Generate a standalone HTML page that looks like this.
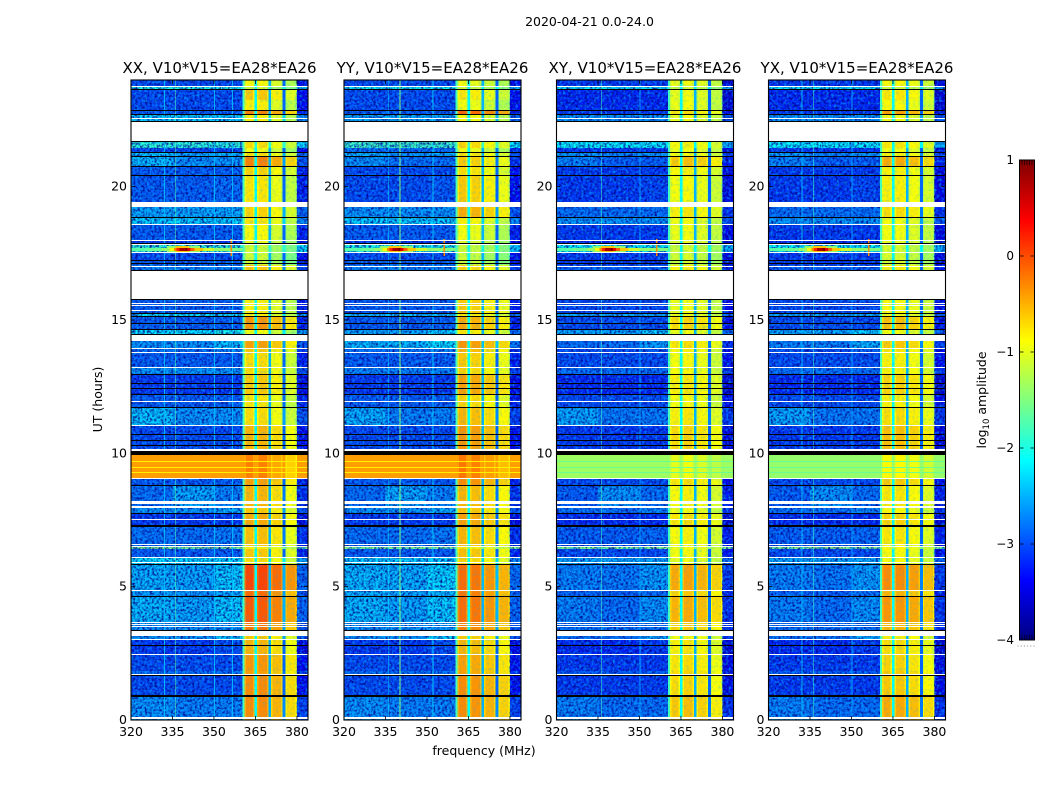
<!DOCTYPE html>
<html lang="en">
<head>
<meta charset="utf-8">
<title>2020-04-21 waterfall</title>
<style>
html,body{margin:0;padding:0;background:#fff;}
svg{display:block;}
text{font-family:"DejaVu Sans","Liberation Sans",sans-serif;fill:#000;}
</style>
</head>
<body>
<svg id="fig" xmlns="http://www.w3.org/2000/svg" width="1050" height="800" viewBox="0 0 1050 800">
  <defs>
    <filter id="speckle-dark" x="0" y="0" width="100%" height="100%" color-interpolation-filters="sRGB">
      <feTurbulence type="fractalNoise" baseFrequency="0.42" numOctaves="2" seed="4"/>
      <feColorMatrix type="matrix" values="0 0 0 0 0  0 0 0 0 0.02  0 0 0 0 0.55  2.8 0 0 0 -1.1"/>
    </filter>
    <filter id="speckle-light" x="0" y="0" width="100%" height="100%" color-interpolation-filters="sRGB">
      <feTurbulence type="fractalNoise" baseFrequency="0.38" numOctaves="2" seed="11"/>
      <feColorMatrix type="matrix" values="0 0 0 0 0  0 0 0 0 0.65  0 0 0 0 1  0 2.8 0 0 -1.3"/>
    </filter>
  </defs>
  <text x="589.5" y="26" font-size="12.5" text-anchor="middle">2020-04-21 0.0-24.0</text>
  <text x="484" y="755" font-size="12.5" text-anchor="middle">frequency (MHz)</text>
  <text transform="translate(102,399.5) rotate(-90)" font-size="12.5" text-anchor="middle">UT (hours)</text>
  <text transform="translate(986,400) rotate(-90)" font-size="12.5" text-anchor="middle">log<tspan font-size="8.5" dy="3">10</tspan><tspan dy="-3"> amplitude</tspan></text>
  <g id="panels"></g>
  <g id="colorbar"></g>
</svg>
<script>
// ---- chart values ----
const panelNames = ['xx', 'yy', 'xy', 'yx'];
const panelTitles = ['XX, V10*V15=EA28*EA26', 'YY, V10*V15=EA28*EA26', 'XY, V10*V15=EA28*EA26', 'YX, V10*V15=EA28*EA26'];
const freqTicks = [320, 335, 350, 365, 380];
const hourTicks = [0, 5, 10, 15, 20];
const colorTicks = [1, 0, -1, -2, -3, -4];

// Time bins counted down from 24 h; one bin is 0.0375 h.
const rowStartBin = [0,7,10,20,30,34,
  61,68,72,76,86,95,127,137,144,161,164,172,180,185,
  220,233,237,249,261,268,273,287,295,315,328,346,
  375,399,406,428,433,447,465,467,469,477,484,510,517,542,556,560,574,591,596,616,637];

// log10 amplitude, low band (320-360 MHz), per time row
const xxLow = [-3.0,-2.0,-3.0,-3.0,-2.9,-2.3,
  -1.9,-3.0,-2.5,-2.6,-2.9,-2.9,-2.5,-2.3,-2.9,-3.1,-1.9,-3.0,-2.9,-2.7,
  -2.9,-2.2,-2.9,-2.2,-2.6,-2.8,-2.9,-2.6,-3.1,-2.9,-2.6,-3.0,
  -0.4,-2.9,-2.8,-2.6,-3.1,-2.8,-2.9,-1.5,-2.9,-2.2,-2.5,-2.6,-2.5,-2.6,-2.6,-3.1,-3.0,-2.8,-3.0,-2.7,-2.6];
const yyLow = [-3.0,-2.1,-3.0,-3.0,-2.9,-2.5,
  -1.8,-2.8,-2.6,-2.8,-3.0,-3.0,-2.6,-2.3,-2.9,-3.1,-2.0,-3.0,-2.9,-2.7,
  -2.9,-2.4,-2.9,-2.5,-2.4,-2.8,-2.9,-2.7,-3.1,-2.9,-2.7,-3.0,
  -0.4,-2.9,-2.8,-2.6,-3.1,-2.8,-2.9,-1.5,-2.9,-2.3,-2.45,-2.5,-2.5,-2.6,-2.6,-3.1,-3.0,-2.8,-3.0,-2.7,-2.6];
const xyLow = [-3.1,-2.2,-3.2,-3.2,-3.1,-2.6,
  -2.1,-3.1,-2.7,-2.9,-3.1,-3.1,-2.8,-2.6,-3.1,-3.2,-2.1,-3.1,-3.1,-2.9,
  -3.0,-2.5,-3.0,-2.5,-2.8,-3.0,-3.0,-2.8,-3.2,-3.0,-2.75,-3.1,
  -1.35,-3.0,-2.9,-2.8,-3.2,-2.9,-3.0,-1.5,-3.0,-2.5,-2.75,-2.9,-2.8,-2.8,-2.8,-3.2,-3.1,-2.9,-3.1,-2.8,-2.7];
const yxLow = [-3.1,-2.2,-3.2,-3.2,-3.1,-2.6,
  -2.1,-3.1,-2.7,-2.9,-3.1,-3.1,-2.8,-2.6,-3.1,-3.2,-2.1,-3.1,-3.1,-2.9,
  -3.0,-2.5,-3.0,-2.5,-2.7,-3.0,-3.0,-2.8,-3.2,-3.0,-2.75,-3.1,
  -1.4,-3.0,-2.9,-2.8,-3.2,-2.9,-3.0,-1.5,-3.0,-2.5,-2.75,-2.9,-2.8,-2.8,-2.8,-3.2,-3.1,-2.9,-3.1,-2.8,-2.7];

// log10 amplitude, high band (360-380 MHz), per time row
const xxHigh = [-0.95,-1.2,-0.7,-0.9,-0.35,-0.9,
  -0.8,-1.0,-0.8,-0.35,-0.75,-0.85,-0.75,-0.85,-0.95,-1.05,-1.2,-1.2,-1.2,-0.7,
  -0.9,-0.9,-0.45,-1.0,-0.5,-0.7,-0.8,-0.8,-0.7,-0.85,-0.8,-0.6,
  -0.35,-0.5,-0.6,-0.7,-0.55,-0.65,-0.7,-0.9,-0.7,-0.8,-0.05,-0.25,-0.15,-0.3,-0.7,-0.6,-0.45,-0.5,-0.4,-0.4,-0.5];
const yyHigh = [-1.0,-1.2,-0.85,-1.0,-0.2,-0.95,
  -0.75,-1.0,-0.8,-0.7,-0.8,-0.7,-0.55,-0.9,-1.0,-1.1,-1.2,-1.2,-1.2,-0.75,
  -0.7,-0.85,-0.55,-0.85,-0.45,-0.6,-0.7,-0.75,-0.5,-0.75,-0.6,-0.45,
  -0.3,-0.4,-0.6,-0.65,-0.5,-0.6,-0.65,-0.85,-0.65,-0.75,-0.25,-0.3,-0.25,-0.35,-0.7,-0.6,-0.5,-0.5,-0.4,-0.4,-0.45];
const xyHigh = [-1.05,-1.25,-1.05,-1.05,-0.85,-1.05,
  -0.95,-1.05,-1.0,-0.7,-0.95,-1.0,-0.9,-1.05,-1.05,-1.1,-1.2,-1.2,-1.2,-0.95,
  -1.05,-1.05,-0.8,-1.05,-0.85,-0.95,-1.0,-1.0,-0.9,-1.0,-0.9,-0.8,
  -1.1,-0.85,-0.95,-1.05,-0.85,-0.95,-1.0,-1.05,-1.0,-1.05,-0.55,-0.75,-0.6,-0.75,-1.0,-0.9,-0.85,-0.8,-0.8,-0.7,-0.65];
const yxHigh = [-1.0,-1.25,-0.9,-1.0,-0.55,-1.05,
  -0.9,-1.05,-0.95,-0.6,-0.95,-0.95,-0.85,-1.05,-1.05,-1.1,-1.2,-1.2,-1.2,-0.95,
  -1.0,-1.05,-0.7,-1.05,-0.75,-0.9,-0.95,-0.95,-0.8,-0.95,-0.85,-0.7,
  -1.0,-0.75,-0.9,-1.0,-0.8,-0.9,-1.0,-1.0,-1.0,-1.0,-0.45,-0.65,-0.5,-0.65,-0.95,-0.85,-0.8,-0.75,-0.75,-0.6,-0.55];

// Per-row brightening of the low band, by frequency zone
const lowZoneEdges = [320, 335, 350, 360.3];
const leftBoost = [0,0,0,0,0,0,
  0,0,0.15,0.2,0,0,0,0,0,0,0,0,0,0,
  0,0,0,0,0,0,0,0,0,0,0.25,0,
  0,0,0,0,0,0,0,0,0,0,0.05,0.05,0.1,0,0,0,0,0,0,0.1,0.2];
const midBoost = [0,0,0,0,0,0,
  0,0,0,0,0,0,0,0,0,0,0,0,0,0,
  0,0,0,0,0,0,0,0,0,0,0,0,
  0,0,0.3,0,0,0,0,0,0,0,0,0,0,0,0,0,0,0,0,0,0];
const rightBoost = [0,0,0,0,0,0,
  0,0,0.1,0,0,0.05,0,0,0,0,0,0,0,0,
  0,0,0,0.2,0.25,0.1,0,0,0,0,0,0,
  0,0,0.1,0.1,0,0.05,0,0,0,0,0.2,0.1,0.2,0,0.3,0.1,0,0,0,0,0];

// High-band sub-bands, the notches between them, and the top edge of the passband
const subBandEdges = [361, 364.6, 365.6, 369.7, 370.7, 374.8, 375.8, 380];
const xxSubBand = [0.1, 0.1, -0.1, -0.3];
const yySubBand = [0.1, 0.05, -0.1, -0.25];
const xySubBand = [0.1, 0.15, 0.05, -0.1];
const yxSubBand = [0.15, 0.15, 0.05, -0.1];
const subBandRimWidth = 0.5;
const subBandRimDrop = -0.18;
const notchLevels = [-2.1, -2.5, -2.9];
const passbandEdgeLevel = -1.8;
const passbandTopLevelOffset = -0.35;

// Narrow interference channels (MHz) and their levels in each panel
const xxLines = [332, 336, 350, 356.5];
const xxLineLevels = [-2.5, -1.7, -2.5, -2.5];
const yyLines = [336, 340, 352];
const yyLineLevels = [-2.3, -1.5, -2.4];
const xyLines = [336, 350];
const xyLineLevels = [-1.8, -2.6];
const yxLines = [332, 336, 350];
const yxLineLevels = [-2.5, -1.8, -2.6];

// Strong interferer near 17.7 h
const rfiStartBin = 168;
const rfiBins = 3;
const rfiFreqs = [320, 326, 331, 334, 335.5, 336.5, 337.5, 339.5, 340.5, 341.5, 343, 346, 350, 356, 360.3];
const rfiLevels = [-1.7, -1.6, -1.4, -0.9, -0.3, 0.2, 0.8, 1.0, 0.5, -0.1, -0.6, -1.1, -1.4, -1.5, -1.6];
const rfiHaloFreqs = [333, 336, 341, 345];
const rfiHaloLevels = [-1.4, -0.6, -1.4];
const streakFreq = 356;
const streakStartBin = 159;
const streakBins = 17;
const streakLevel = -0.3;

// Thin stripes inside the broad band near 9 h
const stripeBins = [381, 387, 392];
const stripeLevels = [-0.8, -0.8, -1.6, -1.6];

// Flagged time ranges: white = no data, black = zero amplitude
const blankStart = [6,38,41,122,144,160,164,172,186,190,223,225,230,255,268,272,287,321,345,369,398,421,426,439,464,466,477,482,510,542,544,546,550,559,574,594,637];
const blankBins = [1,1,20,5,1,1,1,1,1,30,1,1,1,6,1,1,1,1,1,2,1,3,2,1,1,1,1,1,1,1,1,1,6,1,1,1,2];
const flagStart = [9,30,34,41,61,72,76,86,95,137,163,180,183,190,219,233,236,243,249,254,294,303,308,314,327,354,360,365,371,405,433,445,484,516,550,565,595,615];
const flagBins = [1,1,1,1,1,1,1,1,1,1,1,1,1,1,1,1,1,1,1,1,1,1,1,1,1,1,1,1,4,1,1,2,1,1,1,1,1,2];

const colorMin = -4;
const colorMax = 1;
const colorSteps = 160;

// ---- layout and axis functions ----
const NS = 'http://www.w3.org/2000/svg';
const panelLeft = [131, 344, 556.5, 768.5];
const panelWidth = 177;
const plotTop = 80;
const plotBottom = 720;
const HOURS_PER_BIN = 0.0375;
const FREQ_MIN = 320;
const FREQ_MAX = 384;
const xOf = (p, f) => panelLeft[p] + (f - FREQ_MIN) / (FREQ_MAX - FREQ_MIN) * panelWidth;
const yOf = h => plotBottom - h / 24 * (plotBottom - plotTop);
const hourOfBin = b => 24 - b * HOURS_PER_BIN;
const clip01 = v => Math.max(0, Math.min(1, v));
function jet(v) {
  const x = clip01((v - colorMin) / (colorMax - colorMin));
  const r = clip01(Math.min(4 * x - 1.5, -4 * x + 4.5));
  const g = clip01(Math.min(4 * x - 0.5, -4 * x + 3.5));
  const b = clip01(Math.min(4 * x + 0.5, -4 * x + 2.5));
  return 'rgb(' + Math.round(r * 255) + ',' + Math.round(g * 255) + ',' + Math.round(b * 255) + ')';
}
function shape(parent, tag, attrs) {
  const el = document.createElementNS(NS, tag);
  for (const k in attrs) el.setAttribute(k, attrs[k]);
  parent.appendChild(el);
  return el;
}
function cell(parent, p, f0, f1, b0, b1, level) {
  const x0 = xOf(p, f0), x1 = xOf(p, f1), y0 = yOf(hourOfBin(b0)), y1 = yOf(hourOfBin(b1));
  const el = shape(parent, 'rect', {x: x0, y: y0, width: x1 - x0, height: y1 - y0, fill: jet(level), 'shape-rendering': 'crispEdges'});
  
  
  return el;
}

const lowByPanel = [xxLow, yyLow, xyLow, yxLow];
const highByPanel = [xxHigh, yyHigh, xyHigh, yxHigh];
const subBandByPanel = [xxSubBand, yySubBand, xySubBand, yxSubBand];
const linesByPanel = [xxLines, yyLines, xyLines, yxLines];
const lineLevelsByPanel = [xxLineLevels, yyLineLevels, xyLineLevels, yxLineLevels];
const panelsRoot = document.getElementById('panels');

panelNames.forEach((name, p) => {
  const g = shape(panelsRoot, 'g', {});
  
  

  // Heatmap cells: one row of frequency zones per time row
  rowStartBin.forEach((b0, r) => {
    const b1 = r + 1 < rowStartBin.length ? rowStartBin[r + 1] : 640;
    const low = lowByPanel[p][r], high = highByPanel[p][r];
    const boosts = [leftBoost[r], midBoost[r], rightBoost[r]];
    boosts.forEach((boost, z) => cell(g, p, lowZoneEdges[z], lowZoneEdges[z + 1], b0, b1, low + boost));
    cell(g, p, lowZoneEdges[3], subBandEdges[0], b0, b1, Math.max(low, passbandEdgeLevel));
    subBandByPanel[p].forEach((offset, s) => {
      const fa = subBandEdges[s * 2], fb = subBandEdges[s * 2 + 1];
      cell(g, p, fa, fa + subBandRimWidth, b0, b1, high + offset + subBandRimDrop);
      cell(g, p, fa + subBandRimWidth, fb - subBandRimWidth, b0, b1, high + offset);
      cell(g, p, fb - subBandRimWidth, fb, b0, b1, high + offset + subBandRimDrop);
      if (s < notchLevels.length) cell(g, p, fb, subBandEdges[s * 2 + 2], b0, b1, Math.max(notchLevels[s], low));
    });
    cell(g, p, subBandEdges[7], FREQ_MAX, b0, b1, low > -1.6 ? low : low + passbandTopLevelOffset);
  });

  // Thin stripes in the 9 h band
  stripeBins.forEach(b => cell(g, p, FREQ_MIN, FREQ_MAX, b, b + 1, stripeLevels[p]));

  // Noise texture (visual grain only, not data)
  [[0, 375], [399, 640]].forEach(span => {
    [[FREQ_MIN, lowZoneEdges[3]], [subBandEdges[7], FREQ_MAX]].forEach(fr => {
      ['speckle-dark', 'speckle-light'].forEach(fid => {
        const n = shape(g, 'rect', {
          x: xOf(p, fr[0]), y: yOf(hourOfBin(span[0])),
          width: xOf(p, fr[1]) - xOf(p, fr[0]),
          height: yOf(hourOfBin(span[1])) - yOf(hourOfBin(span[0])),
          filter: 'url(#' + fid + ')', opacity: fid === 'speckle-dark' ? 0.9 : 0.7
        });
        
        
      });
    });
    const hn = shape(g, 'rect', {
      x: xOf(p, subBandEdges[0]), y: yOf(hourOfBin(span[0])),
      width: xOf(p, subBandEdges[7]) - xOf(p, subBandEdges[0]),
      height: yOf(hourOfBin(span[1])) - yOf(hourOfBin(span[0])),
      filter: 'url(#speckle-light)', opacity: 0.25
    });
    
    

    // Interference channels stop at the broad band near 9 h
    linesByPanel[p].forEach((f, i) => {
      const l = cell(g, p, f, f + 0.36, span[0], span[1], lineLevelsByPanel[p][i]);
      
    });
  });

  // Strong interferer
  rfiHaloLevels.forEach((lev, i) => {
    [rfiStartBin - 2, rfiStartBin + rfiBins].forEach(b => {
      const h = cell(g, p, rfiHaloFreqs[i], rfiHaloFreqs[i + 1], b, b + 2, lev);
      
    });
  });
  rfiFreqs.forEach((f, i) => {
    if (i + 1 < rfiFreqs.length) {
      const c = cell(g, p, f, rfiFreqs[i + 1], rfiStartBin, rfiStartBin + rfiBins, rfiLevels[i]);
      
    }
  });
  const st = cell(g, p, streakFreq, streakFreq + 0.6, streakStartBin, streakStartBin + streakBins, streakLevel);
  

  // Flagged ranges
  blankStart.forEach((b, i) => {
    const w = shape(g, 'rect', {x: xOf(p, FREQ_MIN), y: yOf(hourOfBin(b)), width: panelWidth, height: yOf(hourOfBin(b + blankBins[i])) - yOf(hourOfBin(b)), fill: '#fff', 'shape-rendering': 'crispEdges'});
    
    
  });
  flagStart.forEach((b, i) => {
    const k = shape(g, 'rect', {x: xOf(p, FREQ_MIN), y: yOf(hourOfBin(b)), width: panelWidth, height: yOf(hourOfBin(b + flagBins[i])) - yOf(hourOfBin(b)), fill: '#000', 'shape-rendering': 'crispEdges'});
    
    
  });

  // Frame
  const frame = shape(g, 'rect', {x: panelLeft[p], y: plotTop, width: panelWidth, height: plotBottom - plotTop, fill: 'none', stroke: '#000', 'stroke-width': 1.1});
  
  

  // Title
  const title = shape(g, 'text', {x: panelLeft[p] + panelWidth / 2, y: 73, 'font-size': 15, 'text-anchor': 'middle'});
  title.textContent = panelTitles[p];
  
  

  // X axis
  freqTicks.forEach(f => {
    const x = xOf(p, f);
    [[plotBottom, plotBottom - 4], [plotTop, plotTop + 4]].forEach(e => {
      const t = shape(g, 'line', {x1: x, x2: x, y1: e[0], y2: e[1], stroke: '#000', 'stroke-width': 0.8});
      
      
    });
    const lab = shape(g, 'text', {x: x, y: 736, 'font-size': 12.5, 'text-anchor': 'middle'});
    lab.textContent = f;
    
    
  });

  // Y axis
  hourTicks.forEach(h => {
    const y = yOf(h);
    [[panelLeft[p], panelLeft[p] + 4], [panelLeft[p] + panelWidth, panelLeft[p] + panelWidth - 4]].forEach(e => {
      const t = shape(g, 'line', {x1: e[0], x2: e[1], y1: y, y2: y, stroke: '#000', 'stroke-width': 0.8});
      
      
    });
    const lab = shape(g, 'text', {x: panelLeft[p] - 4, y: y + 4, 'font-size': 12.5, 'text-anchor': 'end'});
    lab.textContent = h;
    
    
  });
});

// ---- colorbar ----
const barLeft = 1019.5;
const barWidth = 15;
const barTop = 160;
const barBottom = 640;
const yOfColor = v => barBottom - (v - colorMin) / (colorMax - colorMin) * (barBottom - barTop);
const cbRoot = document.getElementById('colorbar');
for (let i = 0; i < colorSteps; i++) {
  const v0 = colorMin + (colorMax - colorMin) * i / colorSteps;
  const v1 = colorMin + (colorMax - colorMin) * (i + 1) / colorSteps;
  const seg = shape(cbRoot, 'rect', {x: barLeft, y: yOfColor(v1), width: barWidth, height: yOfColor(v0) - yOfColor(v1) + 0.5, fill: jet((v0 + v1) / 2)});
  
  
}
const cbFrame = shape(cbRoot, 'rect', {x: barLeft, y: barTop, width: barWidth, height: barBottom - barTop, fill: 'none', stroke: '#000', 'stroke-width': 1});


colorTicks.forEach(v => {
  const y = yOfColor(v);
  [[barLeft, barLeft + 4], [barLeft + barWidth, barLeft + barWidth - 4]].forEach(e => {
    const t = shape(cbRoot, 'line', {x1: e[0], x2: e[1], y1: y, y2: y, stroke: '#000', 'stroke-width': 0.8});
    
    
  });
  const lab = shape(cbRoot, 'text', {x: 1014, y: y + 4, 'font-size': 12, 'text-anchor': 'end'});
  lab.textContent = v < 0 ? '\u2212' + Math.abs(v) : String(v);
  
  
});
[0, 1, 2, 3, 4].forEach(i => {
  const x = barLeft + 2.5 + i * 2.5;
  [[barTop, barTop + 5], [barBottom, barBottom - 5]].forEach(e => {
    const t = shape(cbRoot, 'line', {x1: x, x2: x, y1: e[0], y2: e[1], stroke: '#000', 'stroke-width': 0.6});
    
    
  });
});
const cbDots = shape(cbRoot, 'line', {x1: 1017.5, x2: 1035, y1: 646, y2: 646, stroke: '#888', 'stroke-width': 1, 'stroke-dasharray': '1 2.2'});


</script>
</body>
</html>
